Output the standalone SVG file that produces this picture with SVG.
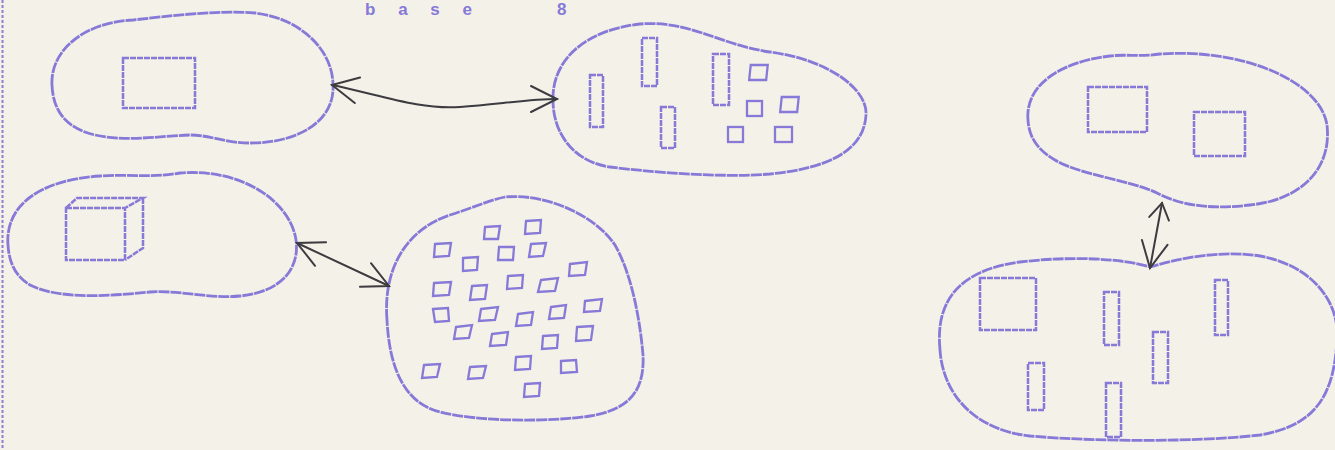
<svg xmlns="http://www.w3.org/2000/svg" width="1335" height="450" viewBox="0 0 1335 450">
<defs>
<style>
.blob{fill:none;stroke:#8679d8;stroke-width:2.8;stroke-linejoin:round;stroke-dasharray:11 1}
.item{fill:none;stroke:#8679d8;stroke-width:2.5;stroke-dasharray:6 1}
.sq{fill:none;stroke:#8679d8;stroke-width:2.3}
.conn{fill:none;stroke:#3c3c40;stroke-width:2;stroke-linecap:round}
.lbl{font-family:"Liberation Sans",Arial,sans-serif;font-size:17px;font-weight:bold;fill:#8679d8}
</style>
<marker id="ah" markerUnits="userSpaceOnUse" markerWidth="40" markerHeight="40" viewBox="-32 -20 40 40" refX="0" refY="0" orient="auto-start-reverse">
<path d="M-26,-13 L0,0 L-26,13" fill="none" stroke="#3c3c40" stroke-width="2" stroke-linecap="round"/>
</marker>
<marker id="ahs" markerUnits="userSpaceOnUse" markerWidth="30" markerHeight="30" viewBox="-24 -15 30 30" refX="0" refY="0" orient="auto-start-reverse">
<path d="M-16,-10 L0,0 L-16,10" fill="none" stroke="#3c3c40" stroke-width="2" stroke-linecap="round"/>
</marker>
</defs>
<rect width="1335" height="450" fill="#f4f1e8"/>
<line x1="2.5" y1="0" x2="2.5" y2="450" stroke="#8a7fd0" stroke-width="2" stroke-dasharray="3 2"/>
<g id="title">
<text class="lbl" x="365" y="15" textLength="107" lengthAdjust="spacing">base</text>
<text class="lbl" x="557" y="15">8</text>
</g>
<g id="node-single">
<path class="blob" d="M52,85 C50,50 85,22 133,20 C170,16 215,10 255,13 C300,18 333,50 333,85 C335,120 300,143 250,143 C225,143 210,135 190,135 C160,136 125,142 95,135 C65,128 53,110 52,85 Z"/>
<rect class="item" x="123" y="58" width="72" height="50"/>
</g>
<g id="node-bars">
<path class="blob" d="M553,100 C552,60 585,30 640,24 C690,20 720,45 770,52 C830,60 868,90 866,115 C864,150 830,168 770,174 C720,178 650,172 610,167 C575,162 553,135 553,100 Z"/>
<rect class="item" x="590" y="75" width="13" height="52"/>
<rect class="item" x="642" y="38" width="15" height="48"/>
<rect class="item" x="661" y="107" width="14" height="41"/>
<rect class="item" x="713" y="54" width="16" height="51"/>
<rect class="sq" x="750" y="65" width="17" height="15" transform="skewX(-6)" transform-origin="758 72"/>
<rect class="sq" x="747" y="101" width="15" height="15"/>
<rect class="sq" x="781" y="97" width="17" height="15" transform="skewX(-6)" transform-origin="789 104"/>
<rect class="sq" x="728" y="127" width="15" height="15"/>
<rect class="sq" x="775" y="127" width="17" height="15"/>
</g>
<g id="node-cube">
<path class="blob" d="M8,245 C5,205 40,180 100,176 C130,174 150,178 180,173 C240,168 290,200 296,240 C300,270 280,292 240,296 C210,299 180,290 150,292 C110,296 60,300 30,285 C15,276 9,262 8,245 Z"/>
<path class="item" d="M66,208 L125,208 L125,260 L66,260 Z M66,208 L77,198 L143,198 L125,208 M143,198 L143,248 L125,260"/>
</g>
<g id="node-dots">
<path class="blob" d="M387,320 C383,270 405,230 450,215 C475,207 490,200 505,197 C545,193 595,215 615,245 C632,275 640,320 643,355 C645,395 625,410 590,416 C550,422 480,422 440,412 C400,402 389,360 387,320 Z"/>
<path class="sq" d="M485,227 l15,-1 l-2,13 l-14,0 z"/>
<path class="sq" d="M526,221 l15,-1 l-1,13 l-15,1 z"/>
<path class="sq" d="M435,244 l16,-1 l-2,13 l-15,1 z"/>
<path class="sq" d="M499,247 l15,0 l-1,13 l-15,0 z"/>
<path class="sq" d="M531,244 l15,-1 l-3,13 l-14,1 z"/>
<path class="sq" d="M463,258 l15,-1 l-1,13 l-14,1 z"/>
<path class="sq" d="M570,264 l17,-2 l-2,13 l-16,1 z"/>
<path class="sq" d="M508,276 l15,-1 l-1,13 l-15,1 z"/>
<path class="sq" d="M541,280 l17,-2 l-3,13 l-17,1 z"/>
<path class="sq" d="M434,283 l17,-1 l-2,13 l-16,1 z"/>
<path class="sq" d="M472,286 l15,-1 l-2,14 l-15,1 z"/>
<path class="sq" d="M585,301 l17,-2 l-2,12 l-16,1 z"/>
<path class="sq" d="M433,309 l15,-1 l1,13 l-14,1 z"/>
<path class="sq" d="M481,309 l17,-2 l-3,13 l-16,1 z"/>
<path class="sq" d="M518,314 l15,-2 l-2,13 l-15,1 z"/>
<path class="sq" d="M551,307 l15,-2 l-2,13 l-15,1 z"/>
<path class="sq" d="M456,327 l16,-2 l-3,13 l-15,1 z"/>
<path class="sq" d="M492,334 l16,-2 l-2,13 l-16,1 z"/>
<path class="sq" d="M543,336 l15,-1 l-1,13 l-15,1 z"/>
<path class="sq" d="M577,327 l16,-1 l-2,14 l-15,1 z"/>
<path class="sq" d="M424,365 l16,-1 l-3,13 l-15,1 z"/>
<path class="sq" d="M470,367 l16,-1 l-3,12 l-15,1 z"/>
<path class="sq" d="M516,357 l15,-1 l-1,13 l-15,1 z"/>
<path class="sq" d="M561,361 l15,-1 l1,12 l-16,1 z"/>
<path class="sq" d="M525,384 l15,-1 l-1,13 l-15,1 z"/>
</g>
<g id="node-pair-top">
<path class="blob" d="M1028,120 C1025,85 1060,62 1110,56 C1125,54 1140,57 1160,54 C1240,48 1320,80 1327,125 C1332,170 1300,200 1250,205 C1210,210 1180,205 1157,193 C1130,180 1080,175 1055,160 C1038,150 1029,138 1028,120 Z"/>
<rect class="item" x="1088" y="87" width="59" height="45"/>
<rect class="item" x="1194" y="112" width="51" height="44"/>
</g>
<g id="node-pair-bottom">
<path class="blob" d="M940,350 C935,300 960,270 1020,262 C1070,256 1120,258 1150,267 C1180,258 1220,250 1260,256 C1310,265 1340,300 1337,340 C1334,390 1320,425 1260,435 C1200,442 1100,442 1030,436 C975,430 943,395 940,350 Z"/>
<rect class="item" x="980" y="278" width="56" height="52"/>
<rect class="item" x="1104" y="292" width="15" height="53"/>
<rect class="item" x="1215" y="280" width="13" height="55"/>
<rect class="item" x="1153" y="332" width="15" height="51"/>
<rect class="item" x="1028" y="363" width="16" height="47"/>
<rect class="item" x="1106" y="383" width="15" height="54"/>
</g>
<g id="connectors">
<path class="conn" d="M332,85 C380,95 420,110 460,107 C500,104 530,99 557,99" marker-start="url(#ah)" marker-end="url(#ah)"/>
<path class="conn" d="M297,243 L389,286" marker-start="url(#ah)" marker-end="url(#ah)"/>
<path class="conn" d="M1150,268 L1162,203" marker-start="url(#ah)" marker-end="url(#ahs)"/>
</g>
</svg>
